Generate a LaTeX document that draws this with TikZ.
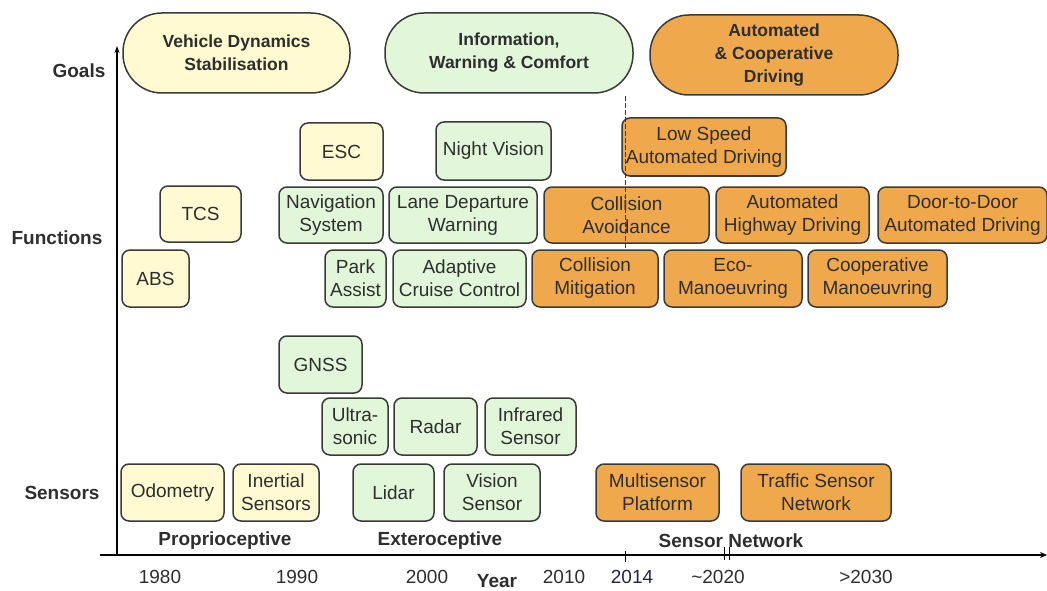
\documentclass[tikz,border=0pt]{standalone}
\usepackage{fontspec}
\setmainfont{Liberation Sans}
\usetikzlibrary{arrows.meta}
\definecolor{cyel}{HTML}{FFFAD2}
\definecolor{cgrn}{HTML}{E2F7DA}
\definecolor{corg}{HTML}{EFA94C}
\definecolor{cedge}{HTML}{3A3A3A}
\definecolor{ctxt}{HTML}{2E2E2E}
\definecolor{cnavy}{HTML}{23234A}
\begin{document}
\begin{tikzpicture}[x=1pt,y=-1pt,
  box/.style={draw=cedge, line width=1.5pt, rounded corners=8pt, inner sep=0pt,
    align=center, text=ctxt, font=\fontsize{19}{23}\selectfont},
  goal/.style={draw=cedge, line width=1.5pt, rounded corners=39pt, inner sep=0pt,
    align=center, text=ctxt, minimum height=80pt, font=\bfseries\fontsize{17.5}{23}\selectfont},
  yb/.style={box, fill=cyel},
  gb/.style={box, fill=cgrn},
  ob/.style={box, fill=corg},
  axlab/.style={font=\bfseries\fontsize{19}{23}\selectfont, text=ctxt, inner sep=0pt},
  yr/.style={font=\fontsize{19}{23}\selectfont, text=ctxt, inner sep=0pt},
  wh/.style={minimum width=#1},
]
\useasboundingbox (0,0) rectangle (1047,591);
% goals
\node[goal, fill=cyel, minimum width=227pt] (g1) at (236.5,53) {Vehicle Dynamics\\Stabilisation};
\node[goal, fill=cgrn, minimum width=248pt] (g2) at (509,53) {Information,\\Warning \& Comfort};
\node[goal, fill=corg, minimum width=248pt] (g3) at (774,55) {Automated\\\& Cooperative\\Driving};
% functions
\node[yb, minimum width=83pt, minimum height=57pt] (esc) at (341.5,151.5) {ESC};
\node[gb, minimum width=115pt, minimum height=58pt] (nv) at (493.5,151) {Night Vision};
\node[ob, minimum width=164pt, minimum height=58pt] (lsad) at (704,147) {Low Speed\\Automated Driving};
\node[yb, minimum width=81pt, minimum height=56pt] (tcs) at (200.5,214) {TCS};
\node[gb, minimum width=104pt, minimum height=56pt] (nav) at (331,215) {Navigation\\System};
\node[gb, minimum width=148pt, minimum height=56pt] (ldw) at (463,215) {Lane Departure\\Warning};
\node[ob, minimum width=165pt, minimum height=56pt] (ca) at (626.5,215) {Collision\\Avoidance};
\node[ob, minimum width=153pt, minimum height=56pt] (ahd) at (792.5,215) {Automated\\Highway Driving};
\node[ob, minimum width=169pt, minimum height=56pt] (dtd) at (962.5,215) {Door-to-Door\\Automated Driving};
\node[yb, minimum width=67pt, minimum height=57pt] (abs) at (155.5,278.5) {ABS};
\node[gb, minimum width=61pt, minimum height=57pt] (pa) at (355.5,278.5) {Park\\Assist};
\node[gb, minimum width=133pt, minimum height=57pt] (acc) at (459.5,278.5) {Adaptive\\Cruise Control};
\node[ob, minimum width=126pt, minimum height=57pt] (cm) at (595,278.5) {Collision\\Mitigation};
\node[ob, minimum width=138pt, minimum height=57pt] (eco) at (733,278.5) {Eco-\\Manoeuvring};
\node[ob, minimum width=139pt, minimum height=57pt] (coop) at (877.5,278.5) {Cooperative\\Manoeuvring};
% sensors
\node[gb, minimum width=83pt, minimum height=57pt] (gnss) at (320.5,364.5) {GNSS};
\node[gb, minimum width=66pt, minimum height=57pt] (us) at (355,426.5) {Ultra-\\sonic};
\node[gb, minimum width=83pt, minimum height=57pt] (radar) at (435.5,426.5) {Radar};
\node[gb, minimum width=91pt, minimum height=57pt] (ir) at (530.5,426.5) {Infrared\\Sensor};
\node[yb, minimum width=103pt, minimum height=57pt] (odo) at (172.5,492.5) {Odometry};
\node[yb, minimum width=86pt, minimum height=57pt] (ins) at (276,492.5) {Inertial\\Sensors};
\node[gb, minimum width=81pt, minimum height=57pt] (lidar) at (393.5,492.5) {Lidar};
\node[gb, minimum width=96pt, minimum height=57pt] (vs) at (492,492.5) {Vision\\Sensor};
\node[ob, minimum width=123pt, minimum height=57pt] (msp) at (657.5,492.5) {Multisensor\\Platform};
\node[ob, minimum width=150pt, minimum height=57pt] (tsn) at (816,492.5) {Traffic Sensor\\Network};
% 2014 marker line
\coordinate (m1) at (625,96);
\coordinate (m2) at (625,250);
\draw[cedge, line width=0.6pt, dash pattern=on 5pt off 2pt] (m1) -- (m2);
% axes
\coordinate (o1) at (117,556);
\coordinate (vt) at (117,46);
\coordinate (h0) at (100,555);
\coordinate (h1) at (1047,555);
\draw[black, line width=2.4pt, -{Stealth[length=7pt,width=5pt]}] (o1) -- (vt);
\draw[black, line width=2.4pt, -{Stealth[length=7pt,width=6pt]}] (h0) -- (h1);
\coordinate (t1) at (625,551);
\coordinate (t2) at (625,562);
\draw[black, line width=1pt] (t1) -- (t2);
\coordinate (b1) at (724,547);
\coordinate (b2) at (724,560);
\coordinate (b3) at (729,547);
\coordinate (b4) at (729,560);
\draw[black, line width=1pt] (b1) -- (b2) (b3) -- (b4);
% axis labels
\node[axlab] (lgoals) at (79,71) {Goals};
\node[axlab] (lfun) at (57,238) {Functions};
\node[axlab] (lsen) at (62,493) {Sensors};
\node[axlab] (lpro) at (225,541) {Proprioceptive};
\node[axlab] (lext) at (440,541) {Exteroceptive};
\node[axlab] (lsn) at (731,541) {Sensor Network};
\node[yr] (y80) at (160,577) {1980};
\node[yr] (y90) at (297,577) {1990};
\node[yr] (y00) at (427,577) {2000};
\node[axlab] (lyear) at (497,581) {Year};
\node[yr] (y10) at (564,577) {2010};
\node[yr, text=cnavy] (y14) at (632,577) {2014};
\node[yr] (y20) at (718,577) {\textasciitilde2020};
\node[yr] (y30) at (866,577) {>2030};
\end{tikzpicture}
\end{document}
